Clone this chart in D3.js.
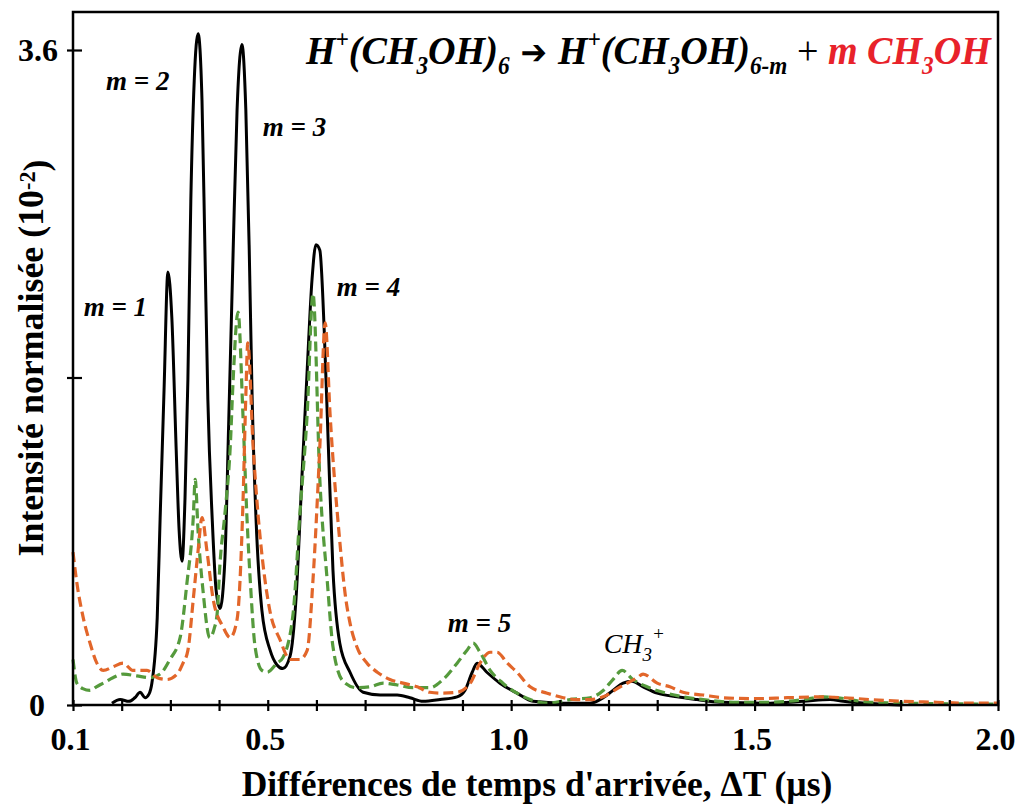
<!DOCTYPE html>
<html><head><meta charset="utf-8">
<script src="https://cdn.jsdelivr.net/npm/d3@7"></script>
<style>body{margin:0;background:#fff}svg{display:block}</style>
</head><body>
<svg id="c" width="1032" height="805"></svg>
<script>
// ---- data (x in µs, y in 10^-2) ----
const blackSeries = [[0.180,0.01],[0.197,0.03],[0.215,0.02],[0.227,0.04],[0.238,0.07],[0.248,0.04],[0.256,0.06],[0.262,0.12],[0.273,0.48],[0.279,1.03],[0.287,1.73],[0.295,2.38],[0.303,2.13],[0.312,1.40],[0.318,0.96],[0.324,0.79],[0.330,1.13],[0.336,1.79],[0.342,2.77],[0.349,3.43],[0.357,3.69],[0.365,3.32],[0.371,2.50],[0.377,1.68],[0.386,1.02],[0.394,0.63],[0.402,0.53],[0.412,0.80],[0.420,1.57],[0.429,2.50],[0.437,3.27],[0.447,3.63],[0.455,3.27],[0.462,2.50],[0.468,1.68],[0.476,1.02],[0.488,0.52],[0.505,0.30],[0.519,0.22],[0.531,0.20],[0.546,0.27],[0.558,0.58],[0.570,1.24],[0.581,1.84],[0.591,2.34],[0.599,2.53],[0.607,2.50],[0.616,2.06],[0.624,1.46],[0.634,0.74],[0.648,0.34],[0.669,0.18],[0.696,0.07],[0.731,0.055],[0.766,0.055],[0.792,0.04],[0.819,0.02],[0.854,0.03],[0.889,0.045],[0.905,0.08],[0.920,0.18],[0.930,0.23],[0.950,0.18],[0.977,0.12],[1.012,0.065],[1.045,0.02],[1.107,0.01],[1.162,0.01],[1.189,0.04],[1.209,0.08],[1.230,0.12],[1.248,0.13],[1.271,0.10],[1.300,0.065],[1.341,0.045],[1.382,0.03],[1.429,0.015],[1.532,0.01],[1.600,0.02],[1.655,0.03],[1.682,0.02],[1.758,0.005],[1.800,0.0]];
const greenSeries = [[0.100,0.25],[0.108,0.12],[0.120,0.09],[0.135,0.08],[0.148,0.10],[0.162,0.12],[0.182,0.15],[0.203,0.17],[0.231,0.16],[0.258,0.15],[0.279,0.17],[0.299,0.25],[0.320,0.37],[0.334,0.67],[0.347,1.03],[0.351,1.24],[0.357,0.95],[0.367,0.63],[0.381,0.37],[0.390,0.42],[0.396,0.50],[0.402,0.78],[0.412,1.05],[0.423,1.42],[0.429,1.79],[0.439,2.16],[0.449,1.60],[0.457,1.05],[0.464,0.69],[0.474,0.32],[0.488,0.19],[0.499,0.18],[0.519,0.23],[0.531,0.26],[0.552,0.50],[0.566,1.05],[0.581,1.60],[0.593,2.26],[0.607,1.24],[0.622,0.69],[0.634,0.32],[0.655,0.13],[0.683,0.095],[0.710,0.10],[0.737,0.12],[0.766,0.11],[0.798,0.095],[0.833,0.095],[0.860,0.14],[0.889,0.23],[0.909,0.30],[0.922,0.34],[0.936,0.29],[0.957,0.19],[0.983,0.12],[1.012,0.065],[1.039,0.03],[1.074,0.01],[1.121,0.03],[1.162,0.04],[1.189,0.08],[1.209,0.14],[1.228,0.19],[1.250,0.14],[1.279,0.10],[1.312,0.07],[1.353,0.045],[1.394,0.03],[1.464,0.015],[1.532,0.015],[1.600,0.03],[1.641,0.045],[1.669,0.04],[1.737,0.015],[1.805,0.01],[2.0,0.005]];
const orangeSeries = [[0.100,0.84],[0.108,0.67],[0.121,0.48],[0.135,0.34],[0.149,0.23],[0.162,0.19],[0.182,0.21],[0.203,0.23],[0.223,0.19],[0.252,0.19],[0.273,0.15],[0.293,0.14],[0.314,0.17],[0.326,0.23],[0.336,0.30],[0.347,0.58],[0.357,0.85],[0.365,1.03],[0.375,0.85],[0.388,0.58],[0.408,0.43],[0.423,0.37],[0.437,0.47],[0.449,1.10],[0.455,1.70],[0.459,1.99],[0.470,1.42],[0.480,1.05],[0.490,0.78],[0.505,0.51],[0.525,0.36],[0.546,0.25],[0.566,0.25],[0.581,0.30],[0.593,0.69],[0.607,1.42],[0.618,2.10],[0.628,1.60],[0.648,0.90],[0.659,0.61],[0.669,0.45],[0.683,0.32],[0.704,0.23],[0.725,0.18],[0.751,0.14],[0.778,0.12],[0.807,0.10],[0.833,0.07],[0.860,0.065],[0.889,0.07],[0.916,0.12],[0.936,0.23],[0.957,0.29],[0.971,0.29],[0.992,0.23],[1.012,0.18],[1.039,0.10],[1.074,0.065],[1.107,0.04],[1.135,0.03],[1.162,0.03],[1.189,0.045],[1.224,0.10],[1.259,0.15],[1.271,0.17],[1.300,0.12],[1.326,0.10],[1.353,0.07],[1.394,0.055],[1.435,0.04],[1.497,0.035],[1.567,0.04],[1.635,0.045],[1.682,0.04],[1.737,0.03],[1.805,0.02],[1.875,0.015],[1.943,0.01],[2.0,0.01]];
const xTickValues = [0.1,0.2,0.3,0.4,0.5,0.6,0.7,0.8,0.9,1.0,1.1,1.2,1.3,1.4,1.5,1.6,1.7,1.8,1.9,2.0];
const xTickLabels = {"0.1":"0.1","0.5":"0.5","1":"1.0","1.5":"1.5","2":"2.0"};
const yTickValues = [0, 1.8, 3.6];
const yTickLabels = {"0":"0","3.6":"3.6"};
const peakLabels = [
  {t:"m = 1", x:0.122, y:2.14},
  {t:"m = 2", x:0.168, y:3.38},
  {t:"m = 3", x:0.490, y:3.13},
  {t:"m = 4", x:0.642, y:2.25},
  {t:"m = 5", x:0.870, y:0.40}
];

const svg = d3.select("#c");
const L=73, R=998, T=12, B=705;
const x = d3.scaleLinear().domain([0.1,2.0]).range([L,R]);
const y = d3.scaleLinear().domain([0,3.6]).range([B,50]);
const serif = "'Liberation Serif','Times New Roman',serif";

// lines
const line = d3.line().x(d=>x(d[0])).y(d=>y(d[1])).curve(d3.curveMonotoneX);
svg.append("path").datum(blackSeries).attr("d",line).attr("fill","none")
  .attr("stroke","#000").attr("stroke-width",3).attr("stroke-linejoin","round");
svg.append("path").datum(greenSeries).attr("d",line).attr("fill","none")
  .attr("stroke","#559a3c").attr("stroke-width",3.2).attr("stroke-dasharray","10,5");
svg.append("path").datum(orangeSeries).attr("d",line).attr("fill","none")
  .attr("stroke","#e2662a").attr("stroke-width",3.2).attr("stroke-dasharray","10,5");

// frame
svg.append("rect").attr("x",L).attr("y",T).attr("width",R-L).attr("height",B-T)
  .attr("fill","none").attr("stroke","#000").attr("stroke-width",2.5);

// x axis
const gx = svg.append("g").attr("transform",`translate(0,${B})`)
  .call(d3.axisBottom(x).tickValues(xTickValues).tickSize(6).tickPadding(16)
    .tickFormat(d=>xTickLabels[String(+d.toFixed(1))]||""));
gx.select(".domain").remove();
gx.selectAll(".tick line").attr("y1",-5).attr("y2",6).attr("stroke-width",2.2);
gx.selectAll(".tick text").attr("font-family",serif).attr("font-weight","bold")
  .attr("font-size",32).attr("fill","#000").attr("dx",-3);

// y axis
const gy = svg.append("g").attr("transform",`translate(${L},0)`)
  .call(d3.axisLeft(y).tickValues(yTickValues).tickSize(6).tickPadding(9)
    .tickFormat(d=>yTickLabels[String(d)]||""));
gy.select(".domain").remove();
gy.selectAll(".tick line").attr("x1",9).attr("x2",-6).attr("stroke-width",2.2);
gy.selectAll(".tick text").attr("font-family",serif).attr("font-weight","bold")
  .attr("font-size",32).attr("fill","#000")
  .attr("dx",d=>d===0?-13:0);

// axis titles (fitted to the reference's extent)
function fit(sel, target){
  const w = sel.node().getComputedTextLength();
  const fs = parseFloat(sel.attr("font-size"));
  sel.attr("font-size", fs*target/w);
}
const xt = svg.append("text").attr("x",537).attr("y",796).attr("text-anchor","middle")
  .attr("font-family",serif).attr("font-weight","bold").attr("font-size",35)
  .text("Différences de temps d'arrivée, ΔT (µs)");
fit(xt, 591);
const yt = svg.append("text").attr("transform","translate(43,358) rotate(-90)")
  .attr("text-anchor","middle").attr("font-family",serif).attr("font-weight","bold").attr("font-size",34);
yt.append("tspan").text("Intensité normalisée (10");
yt.append("tspan").attr("font-size","0.62em").attr("dy","-0.38em").text("-2");
yt.append("tspan").attr("dy","0.38em").text(")");
fit(yt, 397);

// peak labels
peakLabels.forEach(p=>{
  svg.append("text").attr("x",x(p.x)).attr("y",y(p.y)).attr("font-family",serif)
    .attr("font-weight","bold").attr("font-style","italic").attr("font-size",27).text(p.t);
});
const ch = svg.append("text").attr("x",x(1.19)).attr("y",y(0.285)).attr("font-family",serif)
  .attr("font-style","italic").attr("font-size",28);
ch.append("tspan").text("CH");
ch.append("tspan").attr("font-size",19).attr("dy",8).text("3");
ch.append("tspan").attr("font-size",19).attr("dy",-21).text("+");

// title equation
const segs = [
  {t:"H"},{t:"+",s:-16},{t:"(CH"},{t:"3",s:10},{t:"OH)"},{t:"6",s:10},
  {t:" \u2794 ",arrow:true},
  {t:"H"},{t:"+",s:-16},{t:"(CH"},{t:"3",s:10},{t:"OH)"},{t:"6-m",s:10},
  {t:" + ",plain:true},
  {t:"m CH",red:true},{t:"3",s:10,red:true},{t:"OH",red:true}
];
const tt = svg.append("text").attr("font-family",serif).attr("font-weight","bold")
  .attr("font-style","italic").attr("font-size",41).attr("x",0).attr("y",0);
let cur=0;
segs.forEach(s=>{
  const ts = tt.append("tspan").text(s.t);
  const target = s.s||0;
  ts.attr("dy",target-cur); cur=target;
  if(s.s) ts.attr("font-size",25);
  if(s.red) ts.attr("fill","#e8222a");
  if(s.arrow) ts.attr("font-family","'DejaVu Sans',sans-serif").attr("font-style","normal").attr("font-size",34);
  if(s.plain) ts.attr("font-style","normal").attr("font-weight","normal");
});
const bb = tt.node().getBBox();
const sx = 687/bb.width;
tt.attr("transform",`translate(${305 - bb.x*sx},64) scale(${sx},1)`);
</script>
</body></html>
